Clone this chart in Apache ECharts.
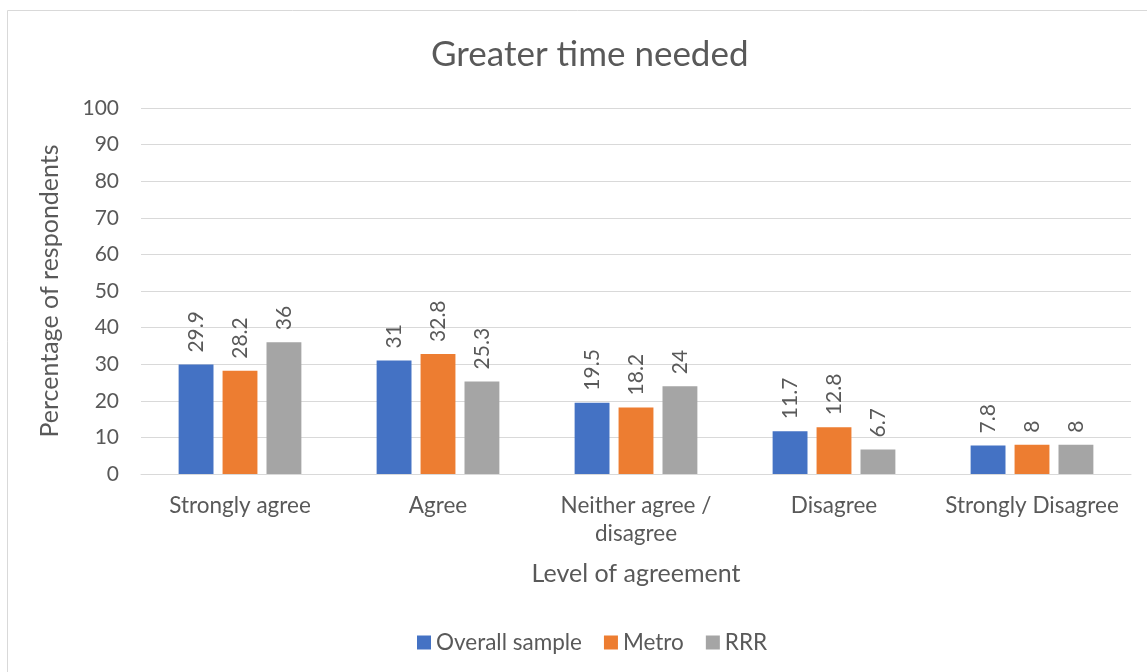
<!DOCTYPE html>
<html><head><meta charset="utf-8">
<script src="https://cdn.jsdelivr.net/npm/echarts@6/dist/echarts.min.js"></script>
<style>html,body{margin:0;padding:0;background:#fff;}#c{width:1147px;height:672px;}</style>
</head><body><div id="c"></div>
<script>
const categories = ['Strongly agree', 'Agree', 'Neither agree /\ndisagree', 'Disagree', 'Strongly Disagree'];
const overall = [29.9, 31, 19.5, 11.7, 7.8];
const metro = [28.2, 32.8, 18.2, 12.8, 8];
const rrr = [36, 25.3, 24, 6.7, 8];
const seriesNames = ['Overall sample', 'Metro', 'RRR'];
const colors = ['#4472C4', '#ED7D31', '#A5A5A5'];
const FONT = 'Lato, "Open Sans", sans-serif';
const txt = '#595959';
const chart = echarts.init(document.getElementById('c'));
const lbl = {
  show: true, position: 'top', rotate: 90, align: 'left', verticalAlign: 'middle',
  distance: 12, color: txt, fontSize: 21, fontFamily: FONT
};
chart.setOption({
  animation: false,
  textStyle: {fontFamily: FONT},
  graphic: [{type: 'rect', shape: {x: 7.5, y: 10.5, width: 1150, height: 680},
    style: {fill: 'none', stroke: '#d9d9d9', lineWidth: 1}, silent: true}],
  title: {text: 'Greater time needed', left: 426, top: 32,
    textStyle: {fontFamily: FONT, fontSize: 35, fontWeight: 'normal', color: txt}},
  legend: {bottom: 13, left: 412, itemWidth: 14, itemHeight: 14, itemGap: 22, itemStyle: {borderWidth: 0},
    icon: 'rect', textStyle: {color: txt, fontSize: 22.5, fontFamily: FONT}, data: seriesNames},
  grid: {left: 141, right: 16, top: 108, bottom: 198},
  xAxis: {type: 'category', data: categories,
    name: 'Level of agreement', nameLocation: 'middle', nameGap: 87,
    nameTextStyle: {color: txt, fontSize: 25, fontFamily: FONT},
    axisLine: {lineStyle: {color: '#d9d9d9'}}, axisTick: {show: false},
    axisLabel: {color: txt, fontSize: 22.5, fontFamily: FONT, margin: 18, lineHeight: 28, interval: 0}},
  yAxis: {type: 'value', min: 0, max: 100, interval: 10,
    name: 'Percentage of respondents', nameLocation: 'middle', nameGap: 79,
    nameTextStyle: {color: txt, fontSize: 25, fontFamily: FONT},
    axisLine: {show: false}, axisTick: {show: false},
    axisLabel: {color: txt, fontSize: 21, fontFamily: FONT, margin: 22},
    splitLine: {lineStyle: {color: '#d9d9d9', width: 1}}},
  series: [
    {name: seriesNames[0], type: 'bar', data: overall, itemStyle: {color: colors[0]},
      barGap: '26%', barCategoryGap: '38%', label: lbl},
    {name: seriesNames[1], type: 'bar', data: metro, itemStyle: {color: colors[1]}, label: lbl},
    {name: seriesNames[2], type: 'bar', data: rrr, itemStyle: {color: colors[2]}, label: lbl}
  ]
});
</script></body></html>
